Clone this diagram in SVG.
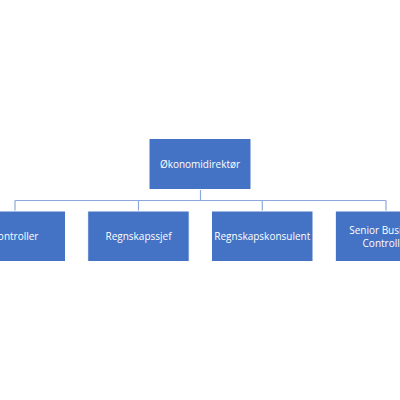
<svg xmlns="http://www.w3.org/2000/svg" width="400" height="400" viewBox="0 0 400 400">
<style>
.box{fill:#4472C4;stroke:#FFFFFF;stroke-width:1}
.lbl{fill:#FFFFFF;font-family:"Open Sans","Liberation Sans",sans-serif;font-size:10px;text-anchor:middle}
.con{fill:none;stroke:#8EA9DB;stroke-width:1.2}
</style>
<rect width="400" height="400" fill="#FFFFFF"/>
<g id="connectors">
<path class="con" d="M200.5 189.5V200.5M15 200.5H386M15 200.5V211M138.5 200.5V211M262.3 200.5V211M386 200.5V211"/>
</g>
<g id="n0"><rect class="box" x="149" y="138.5" width="102" height="51"/><text class="lbl" x="200" y="167.5">Økonomidirektør</text></g>
<g id="n1"><rect class="box" x="-36" y="211" width="101.5" height="50.5"/><text class="lbl" x="15" y="240">Controller</text></g>
<g id="n2"><rect class="box" x="87.7" y="211" width="101.5" height="50.5"/><text class="lbl" x="138.5" y="240">Regnskapssjef</text></g>
<g id="n3"><rect class="box" x="211.5" y="211" width="101.5" height="50.5"/><text class="lbl" x="262.3" y="240">Regnskapskonsulent</text></g>
<g id="n4"><rect class="box" x="335.3" y="211" width="101.5" height="50.5"/><text class="lbl" x="386" y="233.5">Senior Business</text><text class="lbl" x="386" y="246.5">Controller</text></g>
</svg>
